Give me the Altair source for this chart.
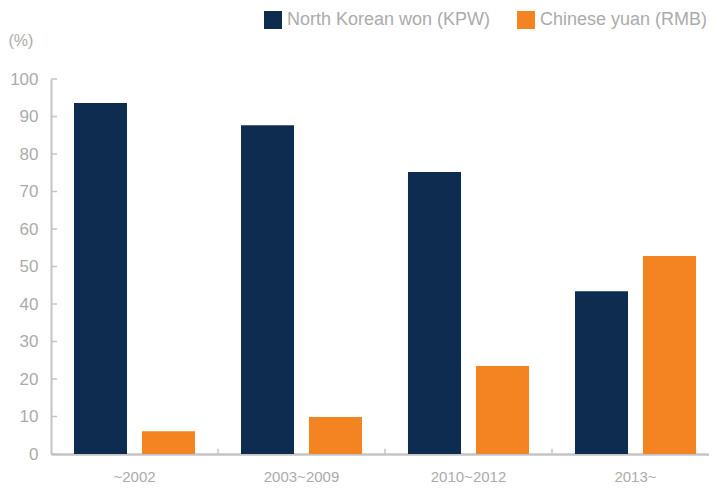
import altair as alt
import pandas as pd

periods = ["~2002", "2003~2009", "2010~2012", "2013~"]
kpw = [93.6, 87.7, 75.2, 43.4]
rmb = [6.1, 9.9, 23.5, 52.8]
series = ["North Korean won (KPW)", "Chinese yuan (RMB)"]
colors = ["#0d2c4f", "#f48422"]
y_ticks = list(range(0, 101, 10))

df = pd.DataFrame({
    "period": periods * 2,
    "series": [series[0]] * 4 + [series[1]] * 4,
    "value": kpw + rmb,
})
boundaries = pd.DataFrame({"period": periods[1:]})
yt = pd.DataFrame({"value": y_ticks})

FONT = "Liberation Sans"
AXIS_GRAY = "#c4c4c4"
TEXT_GRAY = "#ababab"

xscale = alt.Scale(domain=periods, paddingInner=0, paddingOuter=0, range=[0, 668])
yscale = alt.Scale(domain=[0, 100], nice=False)

xaxis = alt.Axis(title=None, labelFont=FONT, labelFontSize=15,
                 labelColor=TEXT_GRAY, labelPadding=15, labelAngle=0,
                 domainColor=AXIS_GRAY, domainWidth=2.5, ticks=False)
yaxis = alt.Axis(title="(%)", values=y_ticks, grid=False, ticks=False,
                 labelFont=FONT, labelFontSize=17, labelColor=TEXT_GRAY,
                 labelPadding=13, labelOverlap=False,
                 domainColor=AXIS_GRAY, domainWidth=2,
                 titleAngle=0, titleAlign="left", titleBaseline="middle",
                 titleX=-43, titleY=-39, titleFont=FONT, titleFontSize=16,
                 titleFontWeight="normal", titleColor=TEXT_GRAY)

bars = alt.Chart(df).mark_bar().encode(
    x=alt.X("period:N", scale=xscale, axis=xaxis),
    xOffset=alt.XOffset("series:N",
                        scale=alt.Scale(domain=series, paddingInner=0.22, paddingOuter=0.338)),
    y=alt.Y("value:Q", scale=yscale, axis=yaxis),
    color=alt.Color("series:N", scale=alt.Scale(domain=series, range=colors),
                    legend=alt.Legend(title=None, orient="none", legendX=213, legendY=-68,
                                      direction="horizontal", symbolType="square",
                                      symbolSize=324, symbolStrokeWidth=0, symbolOpacity=1,
                                      labelFont=FONT, labelFontSize=18, labelColor=TEXT_GRAY,
                                      labelOffset=5, columnPadding=26, labelLimit=400)),
)

xticks = alt.Chart(boundaries).mark_rule(color=AXIS_GRAY, strokeWidth=1.5).encode(
    x=alt.X("period:N", scale=xscale, bandPosition=0, axis=None),
    y=alt.YDatum(0, scale=yscale, axis=None),
    y2=alt.datum(1.4),
)

yticks = alt.Chart(yt).mark_rule(color=AXIS_GRAY, strokeWidth=1.5).encode(
    y=alt.Y("value:Q", scale=yscale, axis=None),
    x=alt.value(0),
    x2=alt.value(6),
)

chart = alt.layer(bars, xticks, yticks).resolve_axis(
    x="independent", y="independent"
).properties(
    width=658, height=375,
    autosize="none",
    padding={"left": 43, "top": 71, "right": 0, "bottom": 30},
    background="white",
).configure_view(stroke=None).configure_axis(labelOverlap=False)

chart.save("out.html", embed_options={"renderer": "svg", "actions": False})
